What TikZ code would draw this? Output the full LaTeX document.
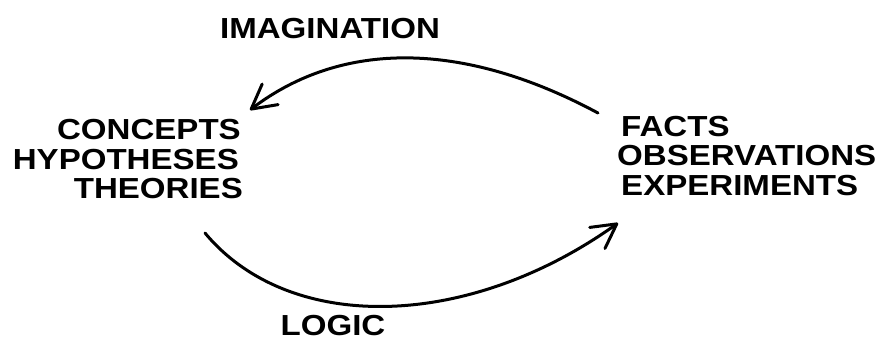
\documentclass[tikz,border=0pt]{standalone}
\usepackage{fontspec}
\newfontfamily\lab[FakeStretch=1.14]{Liberation Sans Bold}
\usetikzlibrary{arrows.meta,bending}
\begin{document}
\begin{tikzpicture}[x=1pt,y=-1pt,
  lbl/.style={inner sep=0pt,font=\lab\fontsize{29}{29.5}\selectfont},
  cyc/.style={line width=3pt,line cap=round,line join=round,
    -{Straight Barb[length=24pt,width=26pt,line cap=round,line join=round]}}]
\fill[white] (0,0) rectangle (882,341);
\useasboundingbox (0,0) rectangle (882,341);
% left block
\node[lbl,anchor=base east] (concepts) at (241,139.5) {CONCEPTS};
\node[lbl,anchor=base east] (hypotheses) at (239,169) {HYPOTHESES};
\node[lbl,anchor=base east] (theories) at (243,198.5) {THEORIES};
% right block
\node[lbl,anchor=base west] (facts) at (621,136) {FACTS};
\node[lbl,anchor=base west] (observations) at (617,165.5) {OBSERVATIONS};
\node[lbl,anchor=base west] (experiments) at (621,195) {EXPERIMENTS};
% labels
\node[lbl,anchor=base] (imagination) at (330,38) {IMAGINATION};
\node[lbl,anchor=base] (logic) at (333,335) {LOGIC};
% arrow ends
\coordinate (imgstart) at (598,113);
\coordinate (imgend) at (250,110);
\coordinate (logstart) at (205,233);
\coordinate (logend) at (618,223);
\draw[cyc] (imgstart) .. controls (462,40) and (340,40) .. (imgend);
\draw[cyc] (logstart) .. controls (290,335) and (470,330) .. (logend);
\end{tikzpicture}
\end{document}
